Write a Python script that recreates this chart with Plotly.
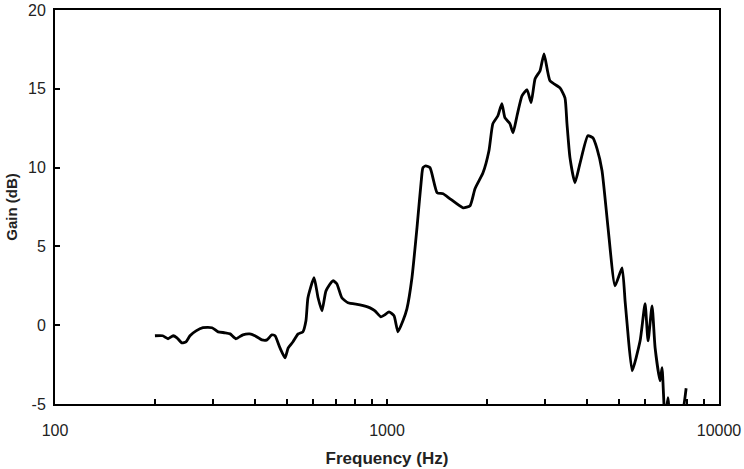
import plotly.graph_objects as go

freq_hz = [200, 211, 219, 227, 233, 241, 248, 255, 266, 279, 297, 310, 325, 337, 351, 368,
           386, 400, 420, 435, 450, 460, 476, 493, 504, 521, 540, 558, 570, 578, 603, 620,
           637, 655, 687, 706, 731, 763, 829, 889, 920, 959, 986, 1014, 1050, 1079, 1117,
           1148, 1189, 1231, 1274, 1283, 1309, 1348, 1416, 1476, 1549, 1695, 1779, 1841,
           1946, 2028, 2084, 2158, 2218, 2265, 2345, 2397, 2464, 2552, 2642, 2717, 2793,
           2891, 2972, 3097, 3319, 3436, 3484, 3557, 3682, 3812, 4027, 4169, 4293, 4443,
           4632, 4863, 5106, 5213, 5287, 5474, 5786, 5989, 6115, 6286, 6420, 6644, 6737,
           6877, 7018, 7164, 7640, 7962]
gain_db = [-0.67, -0.67, -0.86, -0.67, -0.80, -1.12, -1.06, -0.67, -0.36, -0.16, -0.16, -0.42,
           -0.48, -0.55, -0.86, -0.61, -0.55, -0.67, -0.93, -0.93, -0.61, -0.67, -1.44, -2.07,
           -1.44, -1.05, -0.55, -0.42, 0.28, 1.74, 3.01, 1.74, 0.91, 2.18, 2.82, 2.63, 1.74,
           1.42, 1.29, 1.10, 0.91, 0.53, 0.66, 0.85, 0.60, -0.42, 0.28, 1.04, 3.01, 6.18, 9.61,
           9.99, 10.11, 9.99, 8.40, 8.34, 8.02, 7.45, 7.58, 8.66, 9.67, 11.07, 12.79, 13.29,
           14.06, 13.17, 12.79, 12.21, 13.29, 14.56, 14.94, 14.12, 15.64, 16.15, 17.22, 15.51,
           15.06, 14.43, 12.79, 10.63, 9.04, 10.25, 12.02, 11.89, 11.19, 9.80, 6.18, 2.50,
           3.64, 1.55, 0.09, -2.89, -0.99, 1.36, -0.99, 1.23, -1.43, -3.53, -2.70, -6.1,
           -4.6, -6.1, -6.1, -4.0]

x_tick_values = [100, 200, 300, 400, 500, 600, 700, 800, 900,
                 1000, 2000, 3000, 4000, 5000, 6000, 7000, 8000, 9000, 10000]
x_tick_labels = ["100", "", "", "", "", "", "", "", "",
                 "1000", "", "", "", "", "", "", "", "", "10000"]
y_tick_values = [-5, 0, 5, 10, 15, 20]
y_tick_labels = ["-5", "0", "5", "10", "15", "20"]

fig = go.Figure()
fig.add_trace(go.Scatter(
    x=freq_hz, y=gain_db, mode="lines",
    line=dict(color="black", width=2.8, shape="spline", smoothing=0.5),
    showlegend=False, hoverinfo="skip"))

font_family = "Liberation Sans, Arial, sans-serif"
fig.update_layout(
    width=744, height=469,
    margin=dict(l=55, r=25, t=10, b=65),
    paper_bgcolor="white", plot_bgcolor="white",
    font=dict(family=font_family, size=16, color="#222"),
    xaxis=dict(
        type="log", range=[2, 4], automargin=False,
        tickvals=x_tick_values, ticktext=x_tick_labels,
        ticks="inside", ticklen=5, tickwidth=1.5, tickcolor="black",
        showline=True, linecolor="black", linewidth=2, mirror=True,
        showgrid=False, zeroline=False, ticklabelstandoff=11,
        tickfont=dict(size=16, color="#222"),
        title=dict(text="<b>Frequency (Hz)</b>", font=dict(size=17, color="#222"), standoff=14),
    ),
    yaxis=dict(
        range=[-5, 20], tickvals=y_tick_values, ticktext=y_tick_labels, automargin=False,
        ticks="inside", ticklen=5, tickwidth=1.5, tickcolor="black",
        showline=True, linecolor="black", linewidth=2, mirror=True,
        showgrid=False, zeroline=False, ticklabelstandoff=4,
        tickfont=dict(size=16, color="#222"),
        title=dict(text="<b>Gain (dB)</b>", font=dict(size=15, color="#222"), standoff=7),
    ),
)

fig.write_html("out.html", post_script="document.body.style.margin='0';",
               config={"displayModeBar": False})
